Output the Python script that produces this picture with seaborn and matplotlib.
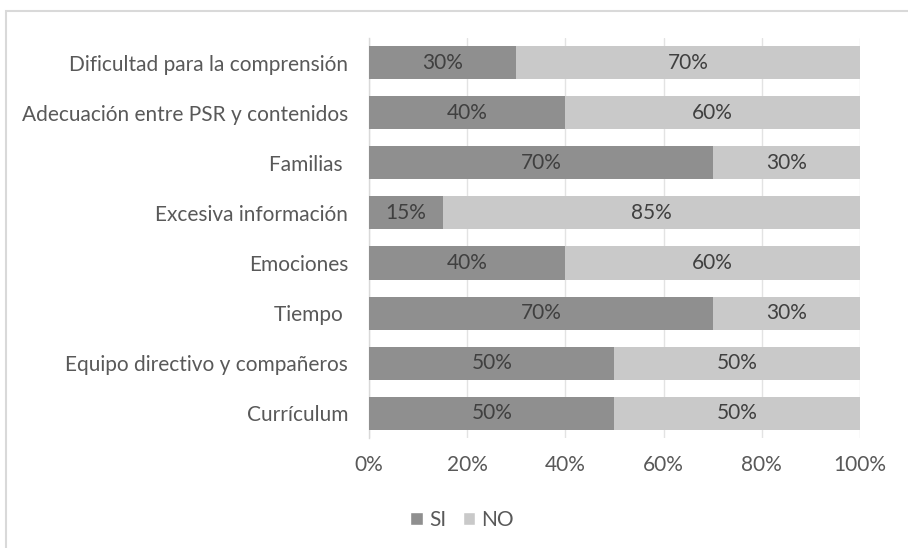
import matplotlib
matplotlib.use("Agg")
import matplotlib.pyplot as plt
import seaborn as sns
import pandas as pd
from matplotlib.patches import Rectangle, Patch

categories = ["Dificultad para la comprensión", "Adecuación entre PSR y contenidos", "Familias ",
              "Excesiva información", "Emociones", "Tiempo ", "Equipo directivo y compañeros", "Currículum"]
si_values = [30, 40, 70, 15, 40, 70, 50, 50]
no_values = [70, 60, 30, 85, 60, 30, 50, 50]
x_ticks = [0, 20, 40, 60, 80, 100]
x_tick_labels = ["0%", "20%", "40%", "60%", "80%", "100%"]

SI_COLOR = "#8f8f8f"
NO_COLOR = "#c9c9c9"
TXT = "#595959"
FS = 15

sns.set_theme(style="white")
plt.rcParams['font.family'] = ['Lato', 'DejaVu Sans']

df = pd.DataFrame({"cat": categories, "SI": si_values, "NO": no_values})
df["total"] = df["SI"] + df["NO"]

fig = plt.figure(figsize=(9.08, 5.48), dpi=100)
ax = fig.add_axes([0.4064, 0.2007, 0.9471 - 0.4064, 0.9307 - 0.2007])

sns.barplot(data=df, y="cat", x="total", color=NO_COLOR, orient="h", width=0.66,
            ax=ax, saturation=1, linewidth=0, zorder=2)
sns.barplot(data=df, y="cat", x="SI", color=SI_COLOR, orient="h", width=0.66,
            ax=ax, saturation=1, linewidth=0, zorder=3)

for i, (s, n) in enumerate(zip(si_values, no_values)):
    ax.text(s / 2, i, f"{s}%", ha="center", va="center", fontsize=FS, color="#404040", zorder=5)
    ax.text(s + n / 2, i, f"{n}%", ha="center", va="center", fontsize=FS, color="#404040", zorder=5)

ax.set_xlim(0, 100)
ax.set_ylim(7.5, -0.5)
ax.set_xticks(x_ticks)
ax.set_xticklabels(x_tick_labels, fontsize=FS, color=TXT)
ax.tick_params(axis="y", labelsize=FS, labelcolor=TXT, length=0, pad=15)
ax.tick_params(axis="x", length=0, pad=12)
ax.set_xlabel("")
ax.set_ylabel("")
ax.xaxis.grid(True, color="#e3e3e3", linewidth=1, zorder=0)
ax.set_axisbelow(True)
for side in ["top", "right", "bottom"]:
    ax.spines[side].set_visible(False)
ax.spines["left"].set_color("#d9d9d9")
ax.spines["left"].set_linewidth(1)

handles = [Patch(facecolor=SI_COLOR, label="SI"), Patch(facecolor=NO_COLOR, label="NO")]
fig.legend(handles=handles, loc="center", bbox_to_anchor=(462 / 908, 1 - 520 / 548), ncol=2,
           frameon=False, fontsize=FS, labelcolor=TXT, handlelength=0.6, handleheight=0.6,
           handletextpad=0.3, columnspacing=0.8)

fig.patches.append(Rectangle((6 / 908, -0.05), 1.1, 1 - 11 / 548 + 0.05, transform=fig.transFigure,
                             fill=False, edgecolor="#d9d9d9", linewidth=1.5))

fig.savefig("out.png", dpi=100)
